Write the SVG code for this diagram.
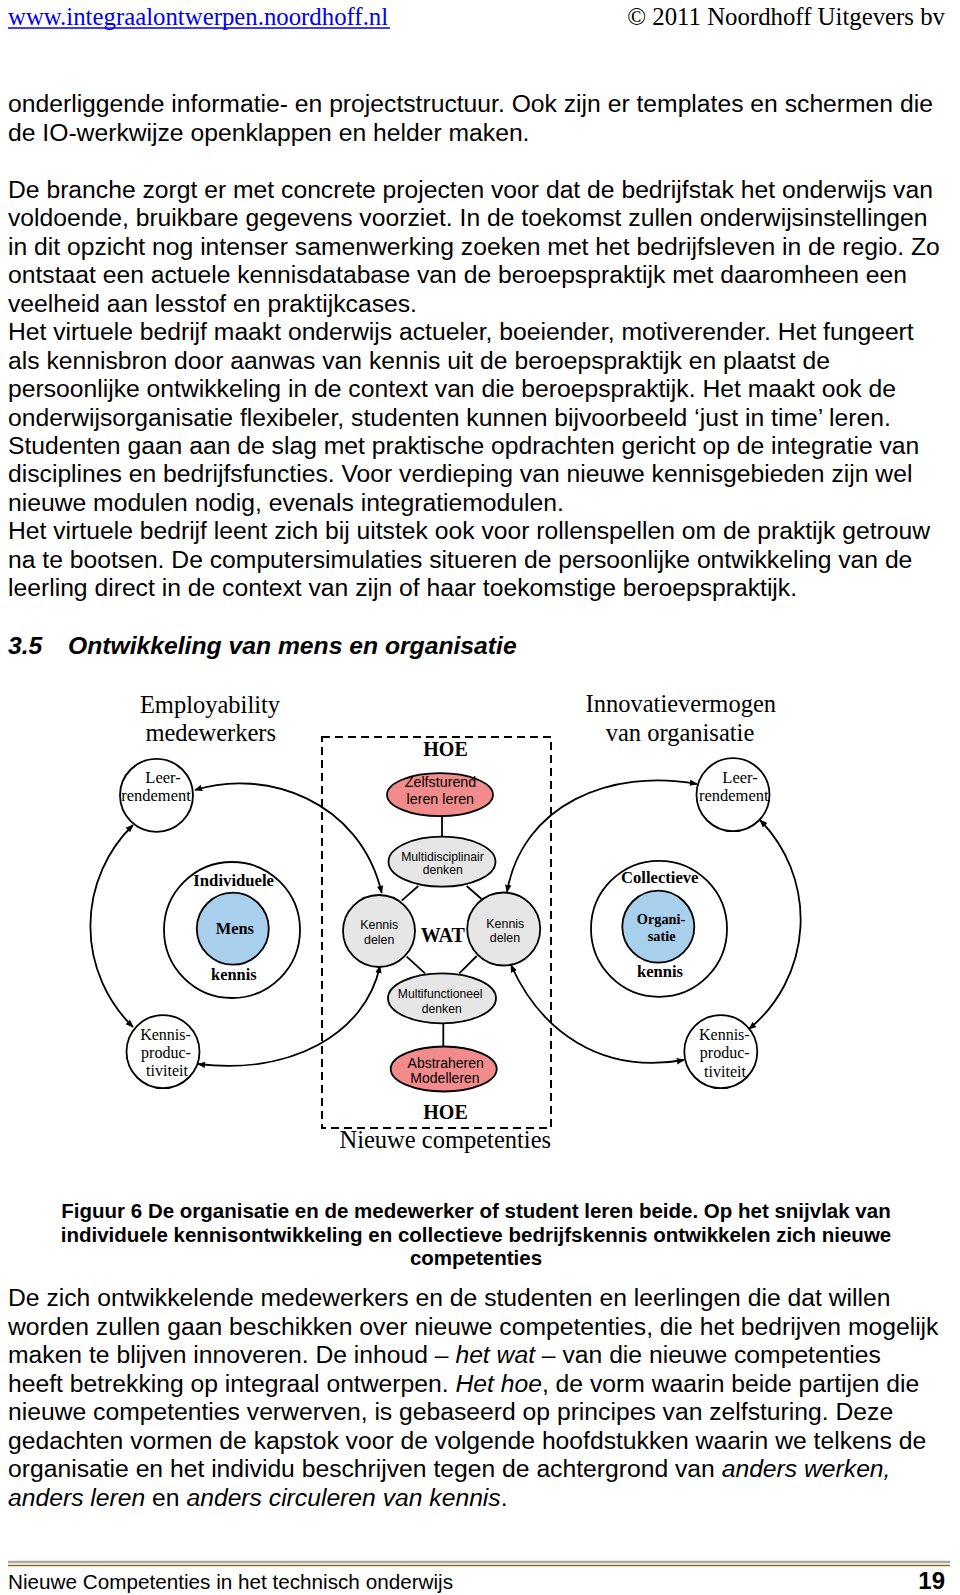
<svg xmlns="http://www.w3.org/2000/svg" width="960" height="1595" viewBox="0 0 960 1595">
<style>
.body{font-family:"Liberation Sans",Arial,sans-serif;font-size:24.7px;fill:#000}
.i{font-style:italic}
.cap{font-family:"Liberation Sans",Arial,sans-serif;font-size:20.5px;font-weight:bold;text-anchor:middle;fill:#000}
.tm{font-family:"Liberation Serif","Times New Roman",serif;fill:#000;text-anchor:middle}
.ar{font-family:"Liberation Sans",Arial,sans-serif;fill:#000;text-anchor:middle}
.nd{stroke:#000;stroke-width:1.8}
.conn{fill:none;stroke:#000;stroke-width:1.8}
.pink{fill:#f28b8c}
.blue{fill:#a8cfec}
.gray{fill:#e6e6e6}
.white{fill:#fff}
</style>
<defs>
<marker id="ah" viewBox="0 0 10 10" refX="9" refY="5" markerWidth="8" markerHeight="8" markerUnits="userSpaceOnUse" orient="auto-start-reverse"><path d="M0,1 L10,5 L0,9 z" fill="#000"/></marker>
</defs>
<rect width="960" height="1595" fill="#fff"/>

<g id="header">
<text x="8" y="25" style="font-family:'Liberation Serif','Times New Roman',serif;font-size:24.8px;fill:#0000ee">www.integraalontwerpen.noordhoff.nl</text>
<line x1="8" y1="28" x2="390" y2="28" stroke="#0000ee" stroke-width="1.3"/>
<text x="945" y="25" text-anchor="end" style="font-family:'Liberation Serif','Times New Roman',serif;font-size:24.8px;fill:#000">© 2011 Noordhoff Uitgevers bv</text>
</g>

<g id="text-top" class="body">
<text x="8" y="112">onderliggende informatie- en projectstructuur. Ook zijn er templates en schermen die</text>
<text x="8" y="140.7">de IO-werkwijze openklappen en helder maken.</text>
<text x="8" y="197.7">De branche zorgt er met concrete projecten voor dat de bedrijfstak het onderwijs van</text>
<text x="8" y="226.1">voldoende, bruikbare gegevens voorziet. In de toekomst zullen onderwijsinstellingen</text>
<text x="8" y="254.6">in dit opzicht nog intenser samenwerking zoeken met het bedrijfsleven in de regio. Zo</text>
<text x="8" y="283.1">ontstaat een actuele kennisdatabase van de beroepspraktijk met daaromheen een</text>
<text x="8" y="311.6">veelheid aan lesstof en praktijkcases.</text>
<text x="8" y="340">Het virtuele bedrijf maakt onderwijs actueler, boeiender, motiverender. Het fungeert</text>
<text x="8" y="368.5">als kennisbron door aanwas van kennis uit de beroepspraktijk en plaatst de</text>
<text x="8" y="397">persoonlijke ontwikkeling in de context van die beroepspraktijk. Het maakt ook de</text>
<text x="8" y="425.5">onderwijsorganisatie flexibeler, studenten kunnen bijvoorbeeld ‘just in time’ leren.</text>
<text x="8" y="453.9">Studenten gaan aan de slag met praktische opdrachten gericht op de integratie van</text>
<text x="8" y="482.4">disciplines en bedrijfsfuncties. Voor verdieping van nieuwe kennisgebieden zijn wel</text>
<text x="8" y="510.9">nieuwe modulen nodig, evenals integratiemodulen.</text>
<text x="8" y="539.4">Het virtuele bedrijf leent zich bij uitstek ook voor rollenspellen om de praktijk getrouw</text>
<text x="8" y="567.9">na te bootsen. De computersimulaties situeren de persoonlijke ontwikkeling van de</text>
<text x="8" y="596.3">leerling direct in de context van zijn of haar toekomstige beroepspraktijk.</text>
</g>

<g id="heading" style="font-family:'Liberation Sans',Arial,sans-serif;font-size:24.7px;font-weight:bold;font-style:italic">
<text x="8" y="654">3.5</text>
<text x="68" y="654">Ontwikkeling van mens en organisatie</text>
</g>

<g id="titles" style="font-size:24.5px">
<text class="tm" x="210" y="713">Employability</text>
<text class="tm" x="210.7" y="740.7">medewerkers</text>
<text class="tm" x="680.8" y="712.3">Innovatievermogen</text>
<text class="tm" x="680" y="740.7">van organisatie</text>
</g>

<g id="competenties-box">
<rect x="322" y="737" width="229" height="391" fill="none" stroke="#000" stroke-width="2" stroke-dasharray="8 5"/>
<text class="tm" x="445.5" y="755.7" style="font-size:20px;font-weight:bold">HOE</text>
<text class="tm" x="442.7" y="941.7" style="font-size:20px;font-weight:bold">WAT</text>
<text class="tm" x="445.5" y="1119.3" style="font-size:20px;font-weight:bold">HOE</text>
<text class="tm" x="445.3" y="1148" style="font-size:24.5px">Nieuwe competenties</text>
</g>

<g id="connectors">
<line class="conn" x1="442" y1="816" x2="442" y2="837"/>
<line class="conn" x1="401.7" y1="900.7" x2="418.3" y2="886"/>
<line class="conn" x1="466.7" y1="886" x2="482.7" y2="900"/>
<line class="conn" x1="406.7" y1="956.7" x2="425" y2="973.3"/>
<line class="conn" x1="476.7" y1="956" x2="459.3" y2="973.3"/>
<line class="conn" x1="443.3" y1="1023.3" x2="443.3" y2="1046.7"/>
<path class="conn" d="M133,825 A141,141 0 0 0 133,1027" marker-start="url(#ah)" marker-end="url(#ah)"/>
<path class="conn" d="M195,790 C265,768 360,800 381.7,893" marker-start="url(#ah)" marker-end="url(#ah)"/>
<path class="conn" d="M380,966 C365,1035 290,1075 198,1064" marker-start="url(#ah)" marker-end="url(#ah)"/>
<path class="conn" d="M507,892 C522,805 610,768 697,784" marker-start="url(#ah)" marker-end="url(#ah)"/>
<path class="conn" d="M760,820 A142,142 0 0 1 749,1029" marker-start="url(#ah)" marker-end="url(#ah)"/>
<path class="conn" d="M511,965 C540,1030 600,1075 684,1060" marker-start="url(#ah)" marker-end="url(#ah)"/>
</g>

<g id="leer-left">
<circle class="nd white" cx="156.5" cy="795.3" r="36.5"/>
<text class="tm" x="163" y="783" style="font-size:16.5px">Leer-</text>
<text class="tm" x="156" y="801" style="font-size:16.5px">rendement</text>
</g>
<g id="kennisprod-left">
<circle class="nd white" cx="163" cy="1051.7" r="36.5"/>
<text class="tm" x="165.5" y="1040" style="font-size:16px">Kennis-</text>
<text class="tm" x="166" y="1058" style="font-size:16px">produc-</text>
<text class="tm" x="167" y="1076" style="font-size:16px">tiviteit</text>
</g>
<g id="individuele-kennis">
<circle class="nd white" cx="232" cy="930" r="68"/>
<circle class="nd blue" cx="232.8" cy="928.7" r="36"/>
<text class="tm" x="233.7" y="885.7" style="font-size:16.7px;font-weight:bold">Individuele</text>
<text class="tm" x="234.8" y="934" style="font-size:16.4px;font-weight:bold">Mens</text>
<text class="tm" x="233.8" y="980" style="font-size:16.4px;font-weight:bold">kennis</text>
</g>
<g id="leer-right">
<circle class="nd white" cx="733" cy="794.7" r="36.5"/>
<text class="tm" x="740" y="783" style="font-size:16.5px">Leer-</text>
<text class="tm" x="733.8" y="800.7" style="font-size:16.5px">rendement</text>
</g>
<g id="kennisprod-right">
<circle class="nd white" cx="720.8" cy="1051.7" r="36.5"/>
<text class="tm" x="724.3" y="1040" style="font-size:16px">Kennis-</text>
<text class="tm" x="724.7" y="1058" style="font-size:16px">produc-</text>
<text class="tm" x="725" y="1077" style="font-size:16px">tiviteit</text>
</g>
<g id="collectieve-kennis">
<circle class="nd white" cx="659" cy="928.8" r="68"/>
<circle class="nd blue" cx="658.3" cy="926.7" r="36"/>
<text class="tm" x="659.8" y="883.3" style="font-size:16.6px;font-weight:bold">Collectieve</text>
<text class="tm" x="661" y="924" style="font-size:14.3px;font-weight:bold">Organi-</text>
<text class="tm" x="661.7" y="940.7" style="font-size:14.3px;font-weight:bold">satie</text>
<text class="tm" x="660" y="976.7" style="font-size:16.6px;font-weight:bold">kennis</text>
</g>
<g id="zelfsturend">
<ellipse class="nd pink" cx="440" cy="794.7" rx="53" ry="21.5"/>
<text class="ar" x="440.5" y="787" style="font-size:14.3px">Zelfsturend</text>
<text class="ar" x="440.3" y="804" style="font-size:14.3px">leren leren</text>
</g>
<g id="multidisciplinair">
<ellipse class="nd gray" cx="442" cy="861.7" rx="53.5" ry="25"/>
<text class="ar" x="442.5" y="861" style="font-size:12.2px">Multidisciplinair</text>
<text class="ar" x="442.7" y="874.3" style="font-size:12.2px">denken</text>
</g>
<g id="kennisdelen-left">
<circle class="nd gray" cx="379" cy="931" r="36"/>
<text class="ar" x="379.2" y="929.3" style="font-size:12.4px">Kennis</text>
<text class="ar" x="379.2" y="943.6" style="font-size:12.4px">delen</text>
</g>
<g id="kennisdelen-right">
<circle class="nd gray" cx="503.7" cy="929" r="36.5"/>
<text class="ar" x="505.3" y="928.3" style="font-size:12.4px">Kennis</text>
<text class="ar" x="505" y="941.6" style="font-size:12.4px">delen</text>
</g>
<g id="multifunctioneel">
<ellipse class="nd gray" cx="442" cy="998.3" rx="54" ry="25"/>
<text class="ar" x="440.2" y="998.3" style="font-size:12.2px">Multifunctioneel</text>
<text class="ar" x="441.7" y="1012.6" style="font-size:12.2px">denken</text>
</g>
<g id="abstraheren">
<ellipse class="nd pink" cx="443.7" cy="1069" rx="53" ry="22.5"/>
<text class="ar" x="445.7" y="1068.3" style="font-size:14px">Abstraheren</text>
<text class="ar" x="445" y="1083.3" style="font-size:14px">Modelleren</text>
</g>

<g id="caption">
<text class="cap" x="476" y="1218">Figuur 6 De organisatie en de medewerker of student leren beide. Op het snijvlak van</text>
<text class="cap" x="476" y="1242">individuele kennisontwikkeling en collectieve bedrijfskennis ontwikkelen zich nieuwe</text>
<text class="cap" x="476" y="1265">competenties</text>
</g>

<g id="text-bottom" class="body">
<text x="8" y="1306.2">De zich ontwikkelende medewerkers en de studenten en leerlingen die dat willen</text>
<text x="8" y="1334.6">worden zullen gaan beschikken over nieuwe competenties, die het bedrijven mogelijk</text>
<text x="8" y="1363.1">maken te blijven innoveren. De inhoud – <tspan class="i">het wat</tspan> – van die nieuwe competenties</text>
<text x="8" y="1391.6">heeft betrekking op integraal ontwerpen. <tspan class="i">Het hoe</tspan>, de vorm waarin beide partijen die</text>
<text x="8" y="1420.1">nieuwe competenties verwerven, is gebaseerd op principes van zelfsturing. Deze</text>
<text x="8" y="1448.5">gedachten vormen de kapstok voor de volgende hoofdstukken waarin we telkens de</text>
<text x="8" y="1477">organisatie en het individu beschrijven tegen de achtergrond van <tspan class="i">anders werken,</tspan></text>
<text x="8" y="1505.5"><tspan class="i">anders leren</tspan> en <tspan class="i">anders circuleren van kennis</tspan>.</text>
</g>

<g id="footer">
<line x1="8" y1="1562" x2="950" y2="1562" stroke="#a8a8a8" stroke-width="2.5"/>
<line x1="8" y1="1565.5" x2="950" y2="1565.5" stroke="#8b6a1e" stroke-width="1.6"/>
<text x="8" y="1588.5" style="font-family:'Liberation Sans',Arial,sans-serif;font-size:20.7px;fill:#000">Nieuwe Competenties in het technisch onderwijs</text>
<text x="945" y="1588.5" text-anchor="end" style="font-family:'Liberation Sans',Arial,sans-serif;font-size:24px;font-weight:bold;fill:#000">19</text>
</g>
</svg>
